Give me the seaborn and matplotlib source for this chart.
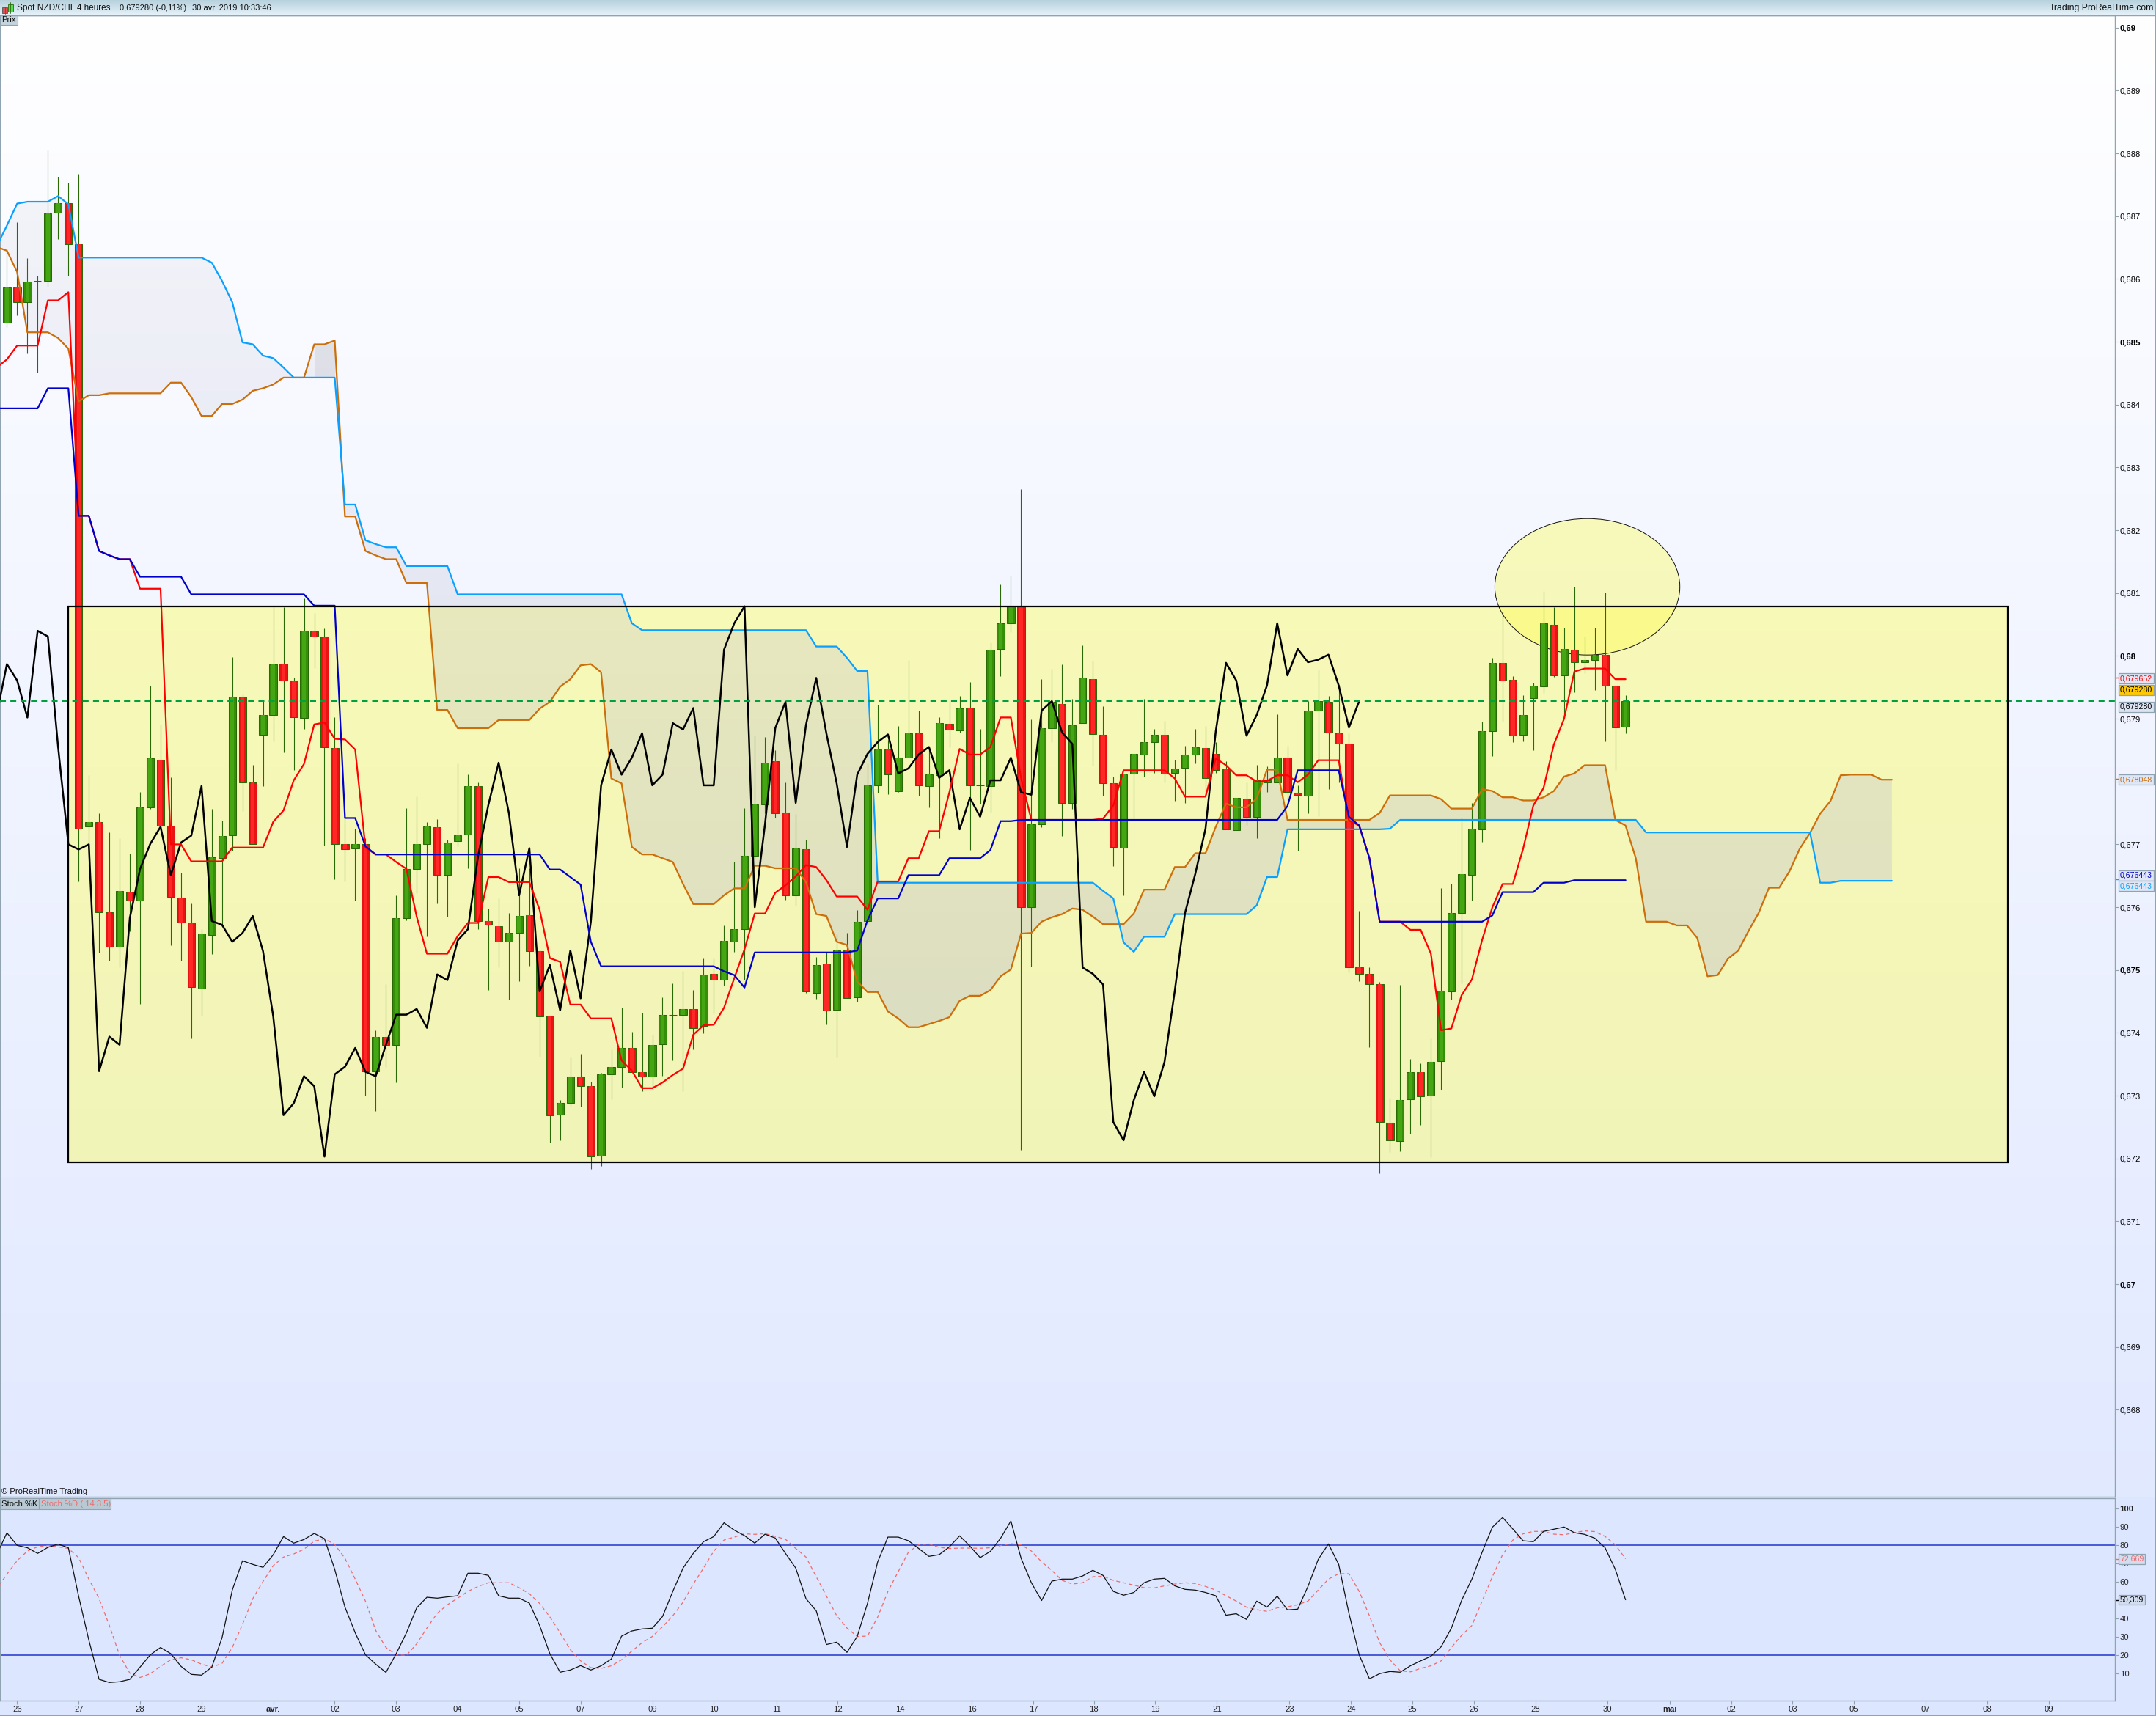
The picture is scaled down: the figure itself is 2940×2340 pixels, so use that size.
import numpy as np
import seaborn as sns
import matplotlib
matplotlib.use("Agg")
import matplotlib.pyplot as plt
from matplotlib.lines import Line2D
from matplotlib.patches import Rectangle, Ellipse

sns.set_theme(style="white")
plt.rcParams['font.family'] = ['Liberation Sans', 'DejaVu Sans']

# candles, price x 100000, bars counted from the first full candle
opens = [68530,68587,68563,68597,68597,68705,68721,68655,67728,67736,67592,67537,67625,67611,67759,67835,67730,67615,67576,67471,
 67556,67678,67714,67935,67798,67875,67906,67988,67961,67901,68039,68031,67854,67700,67694,67700,67339,67394,67381,67583,
 67661,67700,67727,67652,67705,67716,67793,67578,67570,67545,67559,67587,67530,67427,67270,67289,67330,67315,67205,67334,
 67346,67376,67337,67330,67382,67429,67429,67438,67411,67494,67485,67545,67565,67682,67763,67832,67751,67619,67692,67464,
 67510,67437,67531,67457,67578,67794,67851,67785,67838,67877,67793,67810,67892,67882,67918,67794,67793,68011,68052,68079,
 67600,67732,67885,67924,67766,67893,67963,67875,67797,67695,67813,67843,67863,67874,67814,67822,67843,67854,67844,67819,
 67723,67773,67744,67799,67799,67838,67782,67778,67913,67927,67877,67860,67505,67494,67478,67257,67228,67294,67338,67300,
 67355,67466,67591,67652,67724,67880,67989,67962,67874,67933,67951,68050,67969,68010,67990,67994,68002,67953,67887]
closes = [68586,68563,68596,68597,68704,68721,68655,67725,67736,67592,67537,67626,67611,67759,67837,67730,67617,67576,67473,67558,
 67680,67713,67935,67798,67701,67906,67987,67961,67902,68040,68031,67855,67700,67692,67700,67339,67394,67381,67583,67661,
 67701,67728,67651,67703,67714,67793,67578,67572,67545,67559,67586,67530,67426,67269,67288,67331,67315,67203,67334,67346,
 67376,67338,67331,67381,67429,67429,67438,67408,67493,67484,67547,67565,67682,67763,67830,67750,67619,67694,67466,67508,
 67436,67531,67455,67577,67794,67851,67811,67838,67877,67794,67811,67893,67883,67917,67794,67794,68010,68052,68079,67600,
 67732,67885,67927,67766,67890,67965,67876,67797,67696,67811,67844,67863,67875,67813,67821,67843,67855,67806,67818,67724,
 67774,67744,67802,67802,67838,67783,67779,67913,67928,67878,67860,67504,67494,67477,67258,67229,67293,67338,67299,67354,
 67467,67591,67653,67725,67880,67989,67961,67873,67906,67953,68052,67969,68011,67990,67994,68002,67953,67886,67928]
highs = [68648,68690,68633,68605,68805,68763,68753,68767,67810,67750,67719,67710,67685,67783,67953,67891,67807,67655,67606,67565,
 67756,67738,67998,67939,67827,67931,68081,68078,67965,68092,68068,68044,67902,67750,67725,67710,67404,67478,67619,67758,
 67776,67736,67740,67707,67829,67811,67799,67598,67614,67591,67662,67662,67533,67427,67293,67361,67367,67322,67336,67374,
 67440,67402,67432,67397,67457,67479,67498,67468,67518,67519,67571,67672,67758,67873,67871,67850,67799,67748,67708,67521,
 67529,67557,67559,67595,67829,67922,67866,67888,67994,67913,67855,67902,67929,67936,67959,67884,68021,68114,68128,68265,
 67899,67963,67979,67987,67932,68017,67992,67920,67808,67811,67844,67932,67884,67897,67835,67857,67884,67888,67863,67832,
 67774,67799,67827,67824,67907,67857,67794,67928,67978,67936,67954,67877,67594,67504,67481,67297,67476,67359,67351,67391,
 67631,67637,67742,67766,67895,67997,68070,67968,67938,67957,68103,68078,68045,68110,68031,68045,68101,67953,67937]
lows = [68523,68542,68482,68451,68588,68663,68605,67641,67664,67528,67515,67504,67562,67446,67756,67730,67539,67515,67391,67427,
 67526,67570,67690,67753,67701,67793,67864,67846,67818,67884,67981,67698,67644,67641,67611,67300,67276,67346,67321,67579,
 67622,67553,67606,67585,67697,67662,67565,67468,67504,67453,67482,67507,67362,67226,67229,67284,67283,67184,67188,67294,
 67313,67338,67307,67310,67332,67356,67307,67374,67399,67431,67475,67529,67484,67677,67749,67742,67612,67603,67463,67454,
 67413,67361,67455,67449,67572,67782,67780,67783,67838,67778,67759,67710,67855,67878,67691,67765,67751,67968,68038,67214,
 67506,67727,67863,67713,67756,67893,67826,67777,67666,67619,67741,67808,67814,67799,67769,67766,67829,67777,67814,67724,
 67723,67731,67710,67783,67799,67769,67690,67749,67745,67788,67799,67496,67482,67377,67176,67210,67211,67239,67254,67202,
 67310,67453,67479,67611,67704,67841,67896,67863,67864,67850,67941,67967,67903,67942,67972,67946,67864,67818,67877]

# ichimoku lines, these start one bar left of the first candle
tenkan = [68459,68472,68494,68494,68494,68566,68566,68579,68223,68223,68167,68160,68154,68154,68107,68107,68107,67700,67700,67673,
 67673,67673,67673,67695,67695,67695,67695,67736,67754,67802,67828,67891,67894,67868,67867,67851,67695,67684,67684,67672,
 67661,67585,67526,67526,67526,67554,67575,67575,67648,67648,67640,67640,67640,67596,67519,67513,67445,67445,67423,67423,
 67423,67356,67340,67312,67312,67321,67333,67343,67397,67412,67413,67440,67487,67533,67590,67590,67623,67635,67649,67667,
 67664,67643,67617,67617,67617,67596,67641,67641,67641,67678,67678,67721,67721,67783,67852,67843,67843,67855,67902,67902,
 67805,67739,67739,67739,67739,67739,67739,67739,67741,67762,67818,67818,67818,67818,67818,67805,67776,67776,67776,67837,
 67826,67810,67810,67800,67801,67810,67810,67799,67811,67834,67834,67834,67738,67730,67678,67577,67577,67577,67564,67564,
 67526,67404,67407,67460,67485,67548,67600,67637,67637,67693,67762,67790,67859,67900,67975,67980,67980,67980,67963,67963]
kijun = [68394,68394,68394,68394,68394,68426,68426,68426,68223,68223,68167,68160,68154,68154,68126,68126,68126,68126,68126,68098,
 68098,68098,68098,68098,68098,68098,68098,68098,68098,68098,68098,68080,68080,68080,67742,67742,67697,67684,67684,67684,
 67684,67684,67684,67684,67684,67684,67684,67684,67684,67684,67684,67684,67684,67684,67660,67660,67648,67636,67545,67506,
 67506,67506,67506,67506,67506,67506,67506,67506,67506,67506,67506,67498,67492,67472,67528,67528,67528,67528,67528,67528,
 67528,67528,67528,67528,67531,67579,67614,67614,67614,67651,67651,67651,67651,67678,67678,67678,67678,67691,67737,67737,
 67739,67739,67739,67739,67739,67739,67739,67739,67739,67739,67739,67739,67739,67739,67739,67739,67739,67739,67739,67739,
 67739,67739,67739,67739,67739,67739,67761,67818,67818,67818,67818,67818,67744,67730,67678,67577,67577,67577,67577,67577,
 67577,67577,67577,67577,67577,67577,67587,67624,67624,67624,67624,67639,67639,67639,67643,67643,67643,67643,67643,67643]
senkou_a = [68651,68645,68611,68515,68515,68515,68506,68489,68405,68415,68415,68418,68418,68418,68418,68418,68418,68435,68435,68412,
 68382,68382,68401,68401,68408,68422,68426,68432,68443,68443,68443,68496,68496,68502,68222,68222,68167,68160,68154,68154,
 68116,68116,68116,67914,67914,67885,67885,67885,67885,67898,67898,67898,67898,67916,67927,67951,67963,67985,67987,67974,
 67805,67797,67696,67684,67684,67678,67672,67637,67605,67605,67605,67619,67630,67630,67666,67666,67662,67662,67662,67640,
 67589,67586,67545,67540,67482,67465,67465,67434,67423,67409,67409,67414,67419,67425,67451,67459,67459,67468,67490,67501,
 67558,67559,67577,67584,67589,67598,67596,67585,67573,67573,67573,67590,67628,67628,67628,67664,67664,67686,67686,67728,
 67765,67759,67759,67773,67819,67819,67739,67739,67739,67739,67739,67739,67739,67739,67739,67750,67778,67778,67778,67778,
 67778,67772,67757,67757,67757,67788,67785,67775,67775,67770,67770,67775,67785,67808,67813,67826,67826,67826,67739,67730,
 67678,67577,67577,67577,67571,67571,67551,67490,67492,67518,67531,67562,67591,67631,67631,67657,67693,67718,67749,67769,
 67810,67811,67811,67811,67803,67803]
senkou_b = [68652,68685,68720,68723,68723,68723,68732,68719,68634,68634,68634,68634,68634,68634,68634,68634,68634,68634,68634,68634,
 68634,68626,68597,68563,68499,68496,68478,68474,68459,68443,68443,68443,68443,68443,68241,68241,68184,68178,68173,68173,
 68143,68143,68143,68143,68143,68098,68098,68098,68098,68098,68098,68098,68098,68098,68098,68098,68098,68098,68098,68098,
 68098,68098,68052,68041,68041,68041,68041,68041,68041,68041,68041,68041,68041,68041,68041,68041,68041,68041,68041,68041,
 68015,68015,68015,67997,67976,67976,67639,67639,67639,67639,67639,67639,67639,67639,67639,67639,67639,67639,67639,67639,
 67639,67639,67639,67639,67639,67639,67639,67639,67626,67614,67544,67529,67553,67553,67553,67589,67589,67589,67589,67589,
 67589,67589,67589,67603,67648,67648,67724,67724,67724,67724,67724,67724,67724,67724,67724,67724,67725,67739,67739,67739,
 67739,67739,67739,67739,67739,67739,67739,67739,67739,67739,67739,67739,67739,67739,67739,67739,67739,67739,67739,67739,
 67739,67719,67719,67719,67719,67719,67719,67719,67719,67719,67719,67719,67719,67719,67719,67719,67719,67719,67639,67639,
 67642,67642,67642,67642,67642,67642]

stoch_k = [74.9,86.8,80,78.7,75.6,78.9,80.7,78.7,52.3,28.3,6.9,5.2,5.6,6.9,13.6,20.3,24.3,20.9,14,9.6,
 9.2,13.6,29.6,55.6,71.6,69.6,68,74.9,84.8,81.2,83.2,86.5,83.6,66.9,46.3,32.3,20.3,15.2,10.7,20.9,
 32.3,45.9,51.7,51.2,51.9,52.5,64.8,64.8,63.6,52.5,51.2,51.2,48.5,36.3,20.9,10.8,12,14.4,12,14.3,
 18,30.5,33.3,34.4,34.8,41.2,54.9,67.6,75.6,82,84.8,92.3,88.3,85.3,81.2,86.1,84,75.6,67.6,50.9,
 44.3,25.9,27.2,21.6,30.3,48.3,71,84.5,84.5,82.5,78.3,74,74.9,79.2,85.2,79.6,73.3,76.7,83.9,93.3,
 72.9,59.6,49.9,60.5,61.6,61.6,63.3,66.4,63.6,54.9,52.8,54.3,59.6,61.6,62,57.9,56,55.6,54.3,52.5,
 41.9,42.7,39.6,49.6,46.3,52.3,44.8,45.2,57.6,72.3,80.8,69.6,42.9,20.3,7.2,10,11.2,10.8,14.3,17,
 19.5,24.7,34.9,50,61.6,76.3,89.9,95.2,88.9,82.5,82,87.6,88.8,90,86.9,86,83.9,78.7,66.9,50.3]
stoch_d = [56.2,64.3,71.6,76.9,79.2,79.9,79.2,78.3,73.3,61.6,50.9,36.3,20,10.3,7.9,10,14,17.6,18.7,17.6,
 15.2,13.6,15.6,24.3,36.9,50.9,60.3,68.9,73.6,75.3,77.9,82.3,83.6,80.5,72.9,61.6,49.6,33.6,24.3,20.3,
 20,26.3,34.9,42.9,47.6,51.2,54.9,57.6,59.6,59.6,59.6,56.9,53.6,48.3,41,32.3,23,17,13.3,12.9,
 14.3,17.6,22.3,26.9,30.3,35.6,41.6,49,58.9,67.6,76.9,82.9,84.5,86.3,86,86.4,84.9,83.3,78.3,73.6,
 62.9,52.3,41.6,34.9,30.3,30.5,40.9,54.9,65.6,76.3,80.3,80.8,78.9,78.3,78.5,78.5,78.4,78.7,79.9,80.9,
 80.3,76.9,71,66.3,60.9,58.9,59.6,62.9,63.2,60.9,59.6,58.3,56.9,56.8,57.9,58.9,59.6,59.2,57.6,55.6,
 52.5,49.6,46.3,44.9,44,45.9,46.5,47.6,49.6,55.6,61.6,64.5,64.5,54.9,41.6,26.9,17.6,11.6,11,12.9,
 14.3,17,24.3,30.9,36.3,49.6,62.9,74.9,82.9,86.3,87.6,87.6,86.1,85.8,86.9,87.9,87.5,84.9,80.3,72.7]

price_ticks = [0.668,0.669,0.67,0.671,0.672,0.673,0.674,0.675,0.676,0.677,0.678,0.679,0.68,0.681,0.682,0.683,0.684,0.685,0.686,0.687,0.688,0.689,0.69]
# 0,678 sits fully under the orange value frame in the reference
price_tick_labels = ['0,668','0,669','0,67','0,671','0,672','0,673','0,674','0,675','0,676','0,677','','0,679','0,68','0,681','0,682','0,683','0,684','0,685','0,686','0,687','0,688','0,689','0,69']
stoch_ticks = [10,20,30,40,50,60,70,80,90,100]
date_ticks = [1,7,13,19,26,32,38,44,50,56,63,69,75.1,81.1,87.2,94.2,100.2,106.1,112.1,118.1,125.2,131.2,137.2,143.2,149.2,156.2,162.3,168.3,174.3,180.3,187.3,193.3,199.3]
date_labels = ['26','27','28','29','avr.','02','03','04','05','07','09','10','11','12','14','16','17','18','19','21','23','24','25','26','28','30','mai','02','03','05','07','08','09']

assert len(opens) == len(closes) == len(highs) == len(lows) == 159, (len(opens), len(closes), len(highs), len(lows))
assert len(tenkan) == len(kijun) == len(stoch_k) == len(stoch_d) == 160, (len(tenkan), len(kijun), len(stoch_k), len(stoch_d))
assert len(senkou_a) == len(senkou_b) == 186, (len(senkou_a), len(senkou_b))

last_price = 0.67928
box_bars = (6.0, 195.35)
box_prices = (0.67194, 0.68079)
circle_center = (154.27, 0.6811)
circle_size = (18.06, 0.00217)

W, H = 2940, 2340
SPINE = '#8fa4b0'
WICK = '#2a6a06'
FS = 8.1


def fx(x):
    return x / W


def fy(y):
    return 1 - y / H


def to_price(vals):
    return np.array(vals) / 100000.0


fig = plt.figure(figsize=(W / 100, H / 100), dpi=100)

# page background, header bar then the two panel gradients
rows = np.zeros((H, 1, 3))
rows[:21, 0] = np.linspace([0.72, 0.82, 0.87], [0.90, 0.95, 0.98], 21)
rows[21:2041, 0] = np.linspace([1.0, 1.0, 1.0], [0.885, 0.915, 1.0], 2020)
rows[2041:, 0] = [0.863, 0.902, 1.0]
ax_bg = fig.add_axes([0, 0, 1, 1], zorder=-1)
ax_bg.imshow(rows, aspect='auto', interpolation='nearest')
ax_bg.axis('off')

ax_price = fig.add_axes([0, fy(2040.7), 2884 / W, (2040.7 - 20.6) / H])
ax_stoch = fig.add_axes([0, fy(2319.3), 2884 / W, (2319.3 - 2043.3) / H])
for ax in (ax_price, ax_stoch):
    ax.patch.set_visible(False)
    for side in ax.spines:
        ax.spines[side].set_visible(True)
        ax.spines[side].set_color(SPINE)
        ax.spines[side].set_linewidth(1.0)

bars = np.arange(len(opens))
line_bars = np.arange(-1, len(tenkan) - 1)
cloud_bars = np.arange(-1, len(senkou_a) - 1)
o, c, h, l = to_price(opens), to_price(closes), to_price(highs), to_price(lows)
sa, sb = to_price(senkou_a), to_price(senkou_b)
ylim = (0.66662, 0.6902)
xlim = (-9.4 / 13.97, (2884 - 9.4) / 13.97)

ax_price.add_patch(Rectangle((box_bars[0], box_prices[0]), box_bars[1] - box_bars[0], box_prices[1] - box_prices[0],
                             facecolor=(1, 1, 0.3, 0.4), edgecolor='none', zorder=1))
ax_price.add_patch(Ellipse(circle_center, circle_size[0], circle_size[1], facecolor=(1, 1, 0.2, 0.33),
                           edgecolor='#111111', lw=0.7, zorder=1.5))

# cloud gets denser further down the chart, so paint a gradient clipped to the band
cloud_poly = ax_price.fill_between(cloud_bars, sa, sb, color='none', lw=0)
shade = np.zeros((200, 1, 4))
shade[:, 0, :3] = [0.745, 0.745, 0.82]
shade[:, 0, 3] = np.concatenate([np.full(30, 0.14), np.linspace(0.14, 0.42, 110), np.full(60, 0.42)])
cloud_img = ax_price.imshow(shade, extent=[xlim[0], xlim[1], ylim[0], ylim[1]], origin='upper', aspect='auto',
                            interpolation='bilinear', zorder=2)
cloud_img.set_clip_path(cloud_poly.get_paths()[0], transform=ax_price.transData)
# the early stretch where the orange line is on top reads darker
early = cloud_bars <= 33
ax_price.fill_between(cloud_bars, sa, sb, where=early & (sa > sb), color='#50505a', alpha=0.09, lw=0, zorder=2.1)

# yellow box frame stays on top of the fills
ax_price.add_patch(Rectangle((box_bars[0], box_prices[0]), box_bars[1] - box_bars[0], box_prices[1] - box_prices[0],
                             fill=False, edgecolor='black', lw=1.6, zorder=6))

# candles, dark base with a brighter middle strip
ax_price.vlines(bars, l, h, color=WICK, lw=0.8, zorder=3)
up = c >= o
colors = ['#358f08' if u else '#e81414' for u in up]
light = ['#44a612' if u else '#ff2626' for u in up]
bottoms = np.minimum(o, c)
ax_price.bar(bars, np.abs(c - o), bottom=bottoms, width=0.74, color=colors, edgecolor=WICK, linewidth=0.75, zorder=3.2)
ax_price.bar(bars, np.abs(c - o), bottom=bottoms, width=0.36, color=light, linewidth=0, zorder=3.3)

# chikou is the close moved back 26 bars
chikou_bars = np.arange(-1, len(closes) - 26)
sns.lineplot(x=cloud_bars, y=sa, ax=ax_price, color='#cc6e0a', linewidth=1.6, estimator=None, errorbar=None, zorder=4)
sns.lineplot(x=cloud_bars, y=sb, ax=ax_price, color='#0aa0ff', linewidth=1.6, estimator=None, errorbar=None, zorder=4)
sns.lineplot(x=chikou_bars, y=c[25:], ax=ax_price, color='black', linewidth=1.8, estimator=None, errorbar=None, zorder=5)
sns.lineplot(x=line_bars, y=to_price(tenkan), ax=ax_price, color='#ff0000', linewidth=1.6, estimator=None, errorbar=None, zorder=5)
sns.lineplot(x=line_bars, y=to_price(kijun), ax=ax_price, color='#0000cc', linewidth=1.6, estimator=None, errorbar=None, zorder=5.1)
ax_price.axhline(last_price, color='#00a040', lw=1.45, ls=(0, (4, 3)), zorder=5.2)

ax_price.set_xlim(xlim)
ax_price.set_ylim(ylim)
ax_price.set_xticks([])
ax_price.set_xlabel('')
ax_price.yaxis.tick_right()
ax_price.set_yticks(price_ticks, price_tick_labels)
ax_price.tick_params(axis='y', length=3.6, width=0.8, color=SPINE, pad=1.2, labelsize=FS, labelcolor='black', right=True, left=False)
for lab in ax_price.get_yticklabels():
    if lab.get_text() in ('0,67', '0,675', '0,68', '0,685', '0,69'):
        lab.set_fontweight('bold')


def price_tag(ax, y, text, color, face, dy=0, mark=None):
    # small framed value on the right axis, dy in pixels
    ax.annotate(text, xy=(1, y), xycoords=ax.get_yaxis_transform(), xytext=(7, dy), textcoords='offset pixels',
                va='center', ha='left', fontsize=7.7, color=color, annotation_clip=False, zorder=8,
                bbox=dict(boxstyle='square,pad=0.18', fc=face, ec=SPINE, lw=0.9))
    if mark:
        ax.plot([1, 1 + 5 / 2884], [y, y], transform=ax.get_yaxis_transform(), clip_on=False, color=mark, lw=1.0)


price_tag(ax_price, 0.679652, '0,679652', '#ff0000', '#dfe6f5', dy=-1, mark='#ff0000')
price_tag(ax_price, 0.67928, '0,679280', 'black', '#ffc800', dy=15.5)
price_tag(ax_price, 0.67928, '0,679280', 'black', '#dbe3f2', dy=-7.5)
price_tag(ax_price, 0.678048, '0,678048', '#cc6e0a', '#dfe6f5', dy=-1.5, mark='#cc6e0a')
price_tag(ax_price, 0.676443, '0,676443', '#0000cc', '#dfe6f5', dy=5.5)
price_tag(ax_price, 0.676443, '0,676443', '#0aa0ff', '#dfe6f5', dy=-9, mark='#0aa0ff')

# stochastic panel
ax_stoch.axhline(80, color='#2233cc', lw=1.1, zorder=2)
ax_stoch.axhline(20, color='#2233cc', lw=1.1, zorder=2)
sns.lineplot(x=line_bars, y=stoch_d, ax=ax_stoch, color='#f06a6a', linewidth=0.9, linestyle=(0, (4, 3)), estimator=None, errorbar=None, zorder=3)
sns.lineplot(x=line_bars, y=stoch_k, ax=ax_stoch, color='#111111', linewidth=0.9, estimator=None, errorbar=None, zorder=4)
ax_stoch.set_xlim(xlim)
ax_stoch.set_ylim(-4.8, 105.6)
ax_stoch.yaxis.tick_right()
ax_stoch.set_yticks(stoch_ticks, [str(t) for t in stoch_ticks])
ax_stoch.tick_params(axis='y', length=3.6, width=0.8, color=SPINE, pad=1.2, labelsize=FS, right=True, left=False)
ax_stoch.get_yticklabels()[-1].set_fontweight('bold')
ax_stoch.set_xticks(date_ticks, date_labels)
ax_stoch.tick_params(axis='x', length=3.6, width=0.8, color=SPINE, pad=1.5, labelsize=FS, bottom=True)
for lab in ax_stoch.get_xticklabels():
    if lab.get_text() in ('avr.', 'mai'):
        lab.set_fontweight('bold')
ax_stoch.set_xlabel('')
ax_stoch.set_ylabel('')
ax_price.set_ylabel('')
price_tag(ax_stoch, 72.669, '72,669', '#f06a6a', '#d2ddf0', dy=0, mark='#f06a6a')
price_tag(ax_stoch, 50.309, '50,309', 'black', '#d2ddf0', dy=0, mark='black')

# header, footer and the little frames
fig.add_artist(Line2D([0, 1], [fy(20.6), fy(20.6)], color=SPINE, lw=1))
fig.add_artist(Line2D([0, 1], [fy(2339.3), fy(2339.3)], color=SPINE, lw=1))
fig.add_artist(Line2D([fx(2939.4), fx(2939.4)], [0, 1], color=SPINE, lw=1))
for x, txt, size in ((23.4, 'Spot NZD/CHF', 8.6), (105, '4 heures', 8.4), (163, '0,679280 (-0,11%)', 8.0), (262, '30 avr. 2019 10:33:46', 8.0)):
    fig.text(fx(x), fy(11.2), txt, fontsize=size, va='center', ha='left', color='#111111')
fig.text(fx(2937), fy(11.2), 'Trading.ProRealTime.com', fontsize=8.8, va='center', ha='right', color='#111111')

# logo
fig.add_artist(Line2D([fx(6.5), fx(6.5)], [fy(8.5), fy(19)], color='#555555', lw=0.6))
fig.add_artist(Rectangle((fx(3), fy(17.5)), 7 / W, 7.5 / H, transform=fig.transFigure, fc='#e05050', ec='#555555', lw=0.6))
fig.add_artist(Line2D([fx(14.5), fx(14.5)], [fy(3), fy(18)], color='#2a6a06', lw=0.6))
fig.add_artist(Rectangle((fx(11), fy(15.7)), 7 / W, 10 / H, transform=fig.transFigure, fc='#50e050', ec='#2a6a06', lw=0.6))

fig.add_artist(Rectangle((0, fy(34.3)), 23.5 / W, 13.7 / H, transform=fig.transFigure, fc='#c3d4de', ec=SPINE, lw=0.8))
fig.text(fx(2.3), fy(27.5), 'Prix', fontsize=FS, va='center', ha='left', color='#111111')
fig.text(fx(2), fy(2034), '© ProRealTime Trading', fontsize=FS, va='center', ha='left', color='#111111')
fig.add_artist(Rectangle((0, fy(2058)), 53 / W, 15 / H, transform=fig.transFigure, fc='#b9c9d4', ec=SPINE, lw=0.8))
fig.add_artist(Rectangle((fx(53), fy(2058)), 97.5 / W, 15 / H, transform=fig.transFigure, fc='#b9c9d4', ec=SPINE, lw=0.8))
fig.text(fx(2.5), fy(2050.5), 'Stoch %K', fontsize=FS, va='center', ha='left', color='#111111')
fig.text(fx(55.5), fy(2050.5), 'Stoch %D ( 14 3 5)', fontsize=FS, va='center', ha='left', color='#f06a6a')

fig.savefig('out.png', dpi=100)
